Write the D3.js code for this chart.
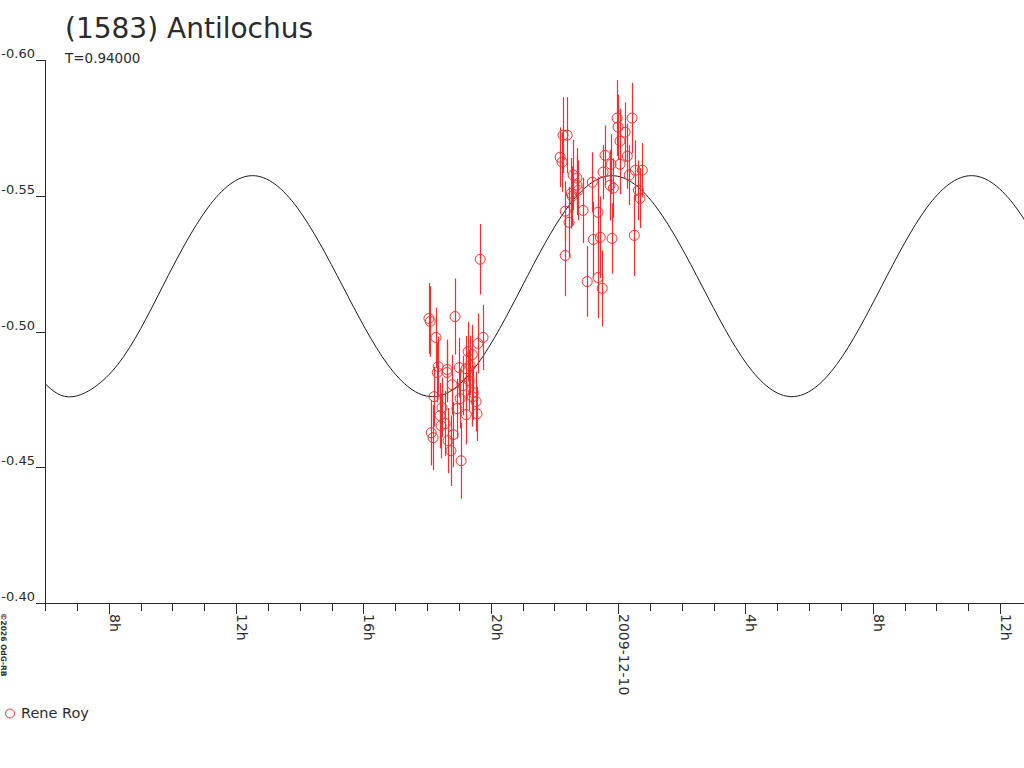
<!DOCTYPE html>
<html>
<head>
<meta charset="utf-8">
<script src="https://cdn.jsdelivr.net/npm/d3@7"></script>
<style>
    body { margin: 0; background: #fff; }
    svg { display: block; font-family: "DejaVu Sans", sans-serif; }
</style>
</head>
<body>
<svg id="chart" width="1024" height="768"></svg>
<script>
// Time is given in hours from 2009-12-09 00:00 UT
const start = Date.UTC(2009, 11, 9);

const title = "(1583) Antilochus";
const subtitle = "T=0.94000";
const observer = "Rene Roy";

const yTicks = [-0.60, -0.55, -0.50, -0.45, -0.40];

// observations (Rene Roy)
const obsHours = [
    18.06, 18.10, 18.28, 18.35, 18.63, 18.88, 19.01, 19.23, 19.29, 19.42,
    19.60, 19.67, 19.76, 18.22, 18.79, 19.45, 19.54, 19.42, 18.47, 18.94,
    19.23, 19.57, 18.41, 18.57, 18.44, 18.13, 18.19, 18.82, 18.66, 18.75,
    19.07, 18.32, 18.63, 19.13, 19.32, 19.04, 19.35,
    22.27, 22.40, 22.18, 22.24, 23.97, 24.44, 24.00, 24.22, 23.59, 23.78,
    24.06, 24.29, 23.53, 24.54, 24.76, 24.35, 22.59, 22.71, 23.19, 23.75,
    23.85, 22.71, 22.53, 22.75, 24.64, 24.69, 22.56, 22.90, 23.37, 22.46,
    22.34, 23.22, 23.44, 23.81, 24.51, 22.34, 23.03, 23.37, 23.50, 24.06
];
const obsMag = [
    -0.5048, -0.5037, -0.4978, -0.4871, -0.4860, -0.5055, -0.4867, -0.4863, -0.4926, -0.4915,
    -0.4956, -0.5266, -0.4978, -0.4760, -0.4804, -0.4775, -0.4742, -0.4760, -0.4720, -0.4716,
    -0.4694, -0.4697, -0.4690, -0.4661, -0.4653, -0.4627, -0.4609, -0.4620, -0.4598, -0.4561,
    -0.4524, -0.4849, -0.4849, -0.4801, -0.4819, -0.4753, -0.4875,
    -0.5723, -0.5723, -0.5642, -0.5624, -0.5786, -0.5786, -0.5753, -0.5734, -0.5649, -0.5616,
    -0.5616, -0.5646, -0.5587, -0.5594, -0.5594, -0.5576, -0.5576, -0.5565, -0.5550, -0.5539,
    -0.5528, -0.5539, -0.5509, -0.5520, -0.5520, -0.5491, -0.5498, -0.5446, -0.5439, -0.5402,
    -0.5443, -0.5339, -0.5347, -0.5343, -0.5354, -0.5280, -0.5184, -0.5199, -0.5159, -0.5701
];
const obsErr = [
    0.013, 0.013, 0.011, 0.011, 0.011, 0.014, 0.011, 0.012, 0.011, 0.011,
    0.011, 0.013, 0.012, 0.011, 0.011, 0.010, 0.011, 0.011, 0.011, 0.011,
    0.011, 0.010, 0.012, 0.012, 0.012, 0.012, 0.012, 0.012, 0.012, 0.013,
    0.014, 0.011, 0.011, 0.011, 0.011, 0.011, 0.011,
    0.014, 0.014, 0.011, 0.011, 0.014, 0.013, 0.012, 0.011, 0.011, 0.011,
    0.011, 0.012, 0.010, 0.011, 0.010, 0.011, 0.013, 0.011, 0.011, 0.013,
    0.011, 0.011, 0.013, 0.011, 0.011, 0.011, 0.011, 0.012, 0.013, 0.013,
    0.011, 0.014, 0.015, 0.013, 0.015, 0.015, 0.013, 0.015, 0.014, 0.012
];

// model curve
const fitHours = [
    6.00, 6.88, 8.29, 9.70, 11.11, 12.52, 13.93, 15.35, 16.76, 18.17,
    19.58, 20.99, 22.40, 23.81, 25.22, 26.64, 28.05, 29.46, 30.87, 32.28,
    33.69, 35.10, 36.51, 37.92
];
const fitMag = [
    -0.4808, -0.4760, -0.4879, -0.5167, -0.5455, -0.5574, -0.5455, -0.5167, -0.4879, -0.4760,
    -0.4879, -0.5167, -0.5455, -0.5574, -0.5455, -0.5167, -0.4879, -0.4760, -0.4879, -0.5167,
    -0.5455, -0.5574, -0.5455, -0.5167
];

const hoursToDate = h => new Date(start + h * 3600 * 1000);

const svg = d3.select("#chart");
const plot = { left: 45, right: 1024, top: 60, bottom: 603 };

const x = d3.scaleUtc()
    .domain([hoursToDate(6), hoursToDate(36.75)])
    .range([plot.left, plot.right]);
const y = d3.scaleLinear()
    .domain([-0.60, -0.40])
    .range([plot.top, plot.bottom]);

const axisColor = "#2b2b2b";
// plain hyphen for the minus sign, like the original
const fmtMag = d3.formatLocale({ decimal: ".", thousands: ",", grouping: [3], currency: ["", ""], minus: "-" }).format(".2f");

// Title
svg.append("text")
    .attr("x", 65).attr("y", 38)
    .attr("font-size", 28)
    .attr("fill", "#2b2b2b")
    .text(title);
svg.append("text")
    .attr("x", 65).attr("y", 63)
    .attr("font-size", 13.5)
    .attr("fill", "#2b2b2b")
    .text(subtitle);

// Y axis
svg.append("line")
    .attr("x1", plot.left + 0.5).attr("x2", plot.left + 0.5)
    .attr("y1", plot.top).attr("y2", plot.bottom)
    .attr("stroke", axisColor);
const yt = svg.append("g").selectAll("g")
    .data(yTicks)
    .join("g");
yt.append("line")
    .attr("x1", 36).attr("x2", plot.left)
    .attr("y1", d => Math.round(y(d)) + 0.5)
    .attr("y2", d => Math.round(y(d)) + 0.5)
    .attr("stroke", axisColor);
yt.append("text")
    .attr("x", 35)
    .attr("y", d => y(d) - 2)
    .attr("text-anchor", "end")
    .attr("font-size", 13)
    .attr("fill", "#2b2b2b")
    .text(d => fmtMag(d));

// X axis
svg.append("line")
    .attr("x1", 36).attr("x2", plot.right)
    .attr("y1", plot.bottom + 0.5).attr("y2", plot.bottom + 0.5)
    .attr("stroke", axisColor);

const minor = x.ticks(d3.utcHour.every(1));
svg.append("g").selectAll("line")
    .data(minor)
    .join("line")
    .attr("x1", d => Math.round(x(d)) + 0.5)
    .attr("x2", d => Math.round(x(d)) + 0.5)
    .attr("y1", plot.bottom)
    .attr("y2", d => d.getUTCHours() % 4 === 0 ? plot.bottom + 11 : plot.bottom + 8)
    .attr("stroke", axisColor);

const major = x.ticks(d3.utcHour.every(4));
svg.append("g").selectAll("text")
    .data(major)
    .join("text")
    .attr("transform", d => `translate(${Math.round(x(d)) + 1},614) rotate(90)`)
    .attr("font-size", 14)
    .attr("fill", "#2b2b2b")
    .text(d => d.getUTCHours() === 0 ? d3.utcFormat("%Y-%m-%d")(d) : `${d.getUTCHours()}h`);

// copyright
svg.append("text")
    .attr("transform", "translate(1,613) rotate(90)")
    .attr("font-size", 7.5)
    .attr("font-weight", "bold")
    .attr("fill", "#2b2b2b")
    .text("©2026 OdG-RB");

// clip area
svg.append("defs").append("clipPath")
    .attr("id", "plot-clip")
    .append("rect")
    .attr("x", plot.left + 1).attr("y", plot.top)
    .attr("width", plot.right - plot.left).attr("height", plot.bottom - plot.top);

// Model curve
const line = d3.line()
    .x((d, i) => x(hoursToDate(fitHours[i])))
    .y((d, i) => y(fitMag[i]))
    .curve(d3.curveNatural);
svg.append("path")
    .attr("clip-path", "url(#plot-clip)")
    .attr("d", line(fitHours))
    .attr("fill", "none")
    .attr("stroke", "#1a1a1a")
    .attr("stroke-width", 1);

// Observations
const obs = obsHours.map((h, i) => ({ t: hoursToDate(h), m: obsMag[i], e: obsErr[i] }));
const pts = svg.append("g").attr("clip-path", "url(#plot-clip)");
pts.selectAll("line")
    .data(obs)
    .join("line")
    .attr("x1", d => Math.round(x(d.t)) + 0.5)
    .attr("x2", d => Math.round(x(d.t)) + 0.5)
    .attr("y1", d => y(d.m - d.e))
    .attr("y2", d => y(d.m + d.e))
    .attr("stroke", "#f03030")
    .attr("stroke-width", 1.2);
pts.selectAll("circle")
    .data(obs)
    .join("circle")
    .attr("cx", d => x(d.t))
    .attr("cy", d => y(d.m))
    .attr("r", 5)
    .attr("fill", "none")
    .attr("stroke", "#f03030")
    .attr("stroke-width", 1);

// Legend
svg.append("circle")
    .attr("cx", 10).attr("cy", 713.5)
    .attr("r", 4.5)
    .attr("fill", "none")
    .attr("stroke", "#f03030");
svg.append("text")
    .attr("x", 21).attr("y", 718)
    .attr("font-size", 14.5)
    .attr("fill", "#2b2b2b")
    .text(observer);
</script>
</body>
</html>
